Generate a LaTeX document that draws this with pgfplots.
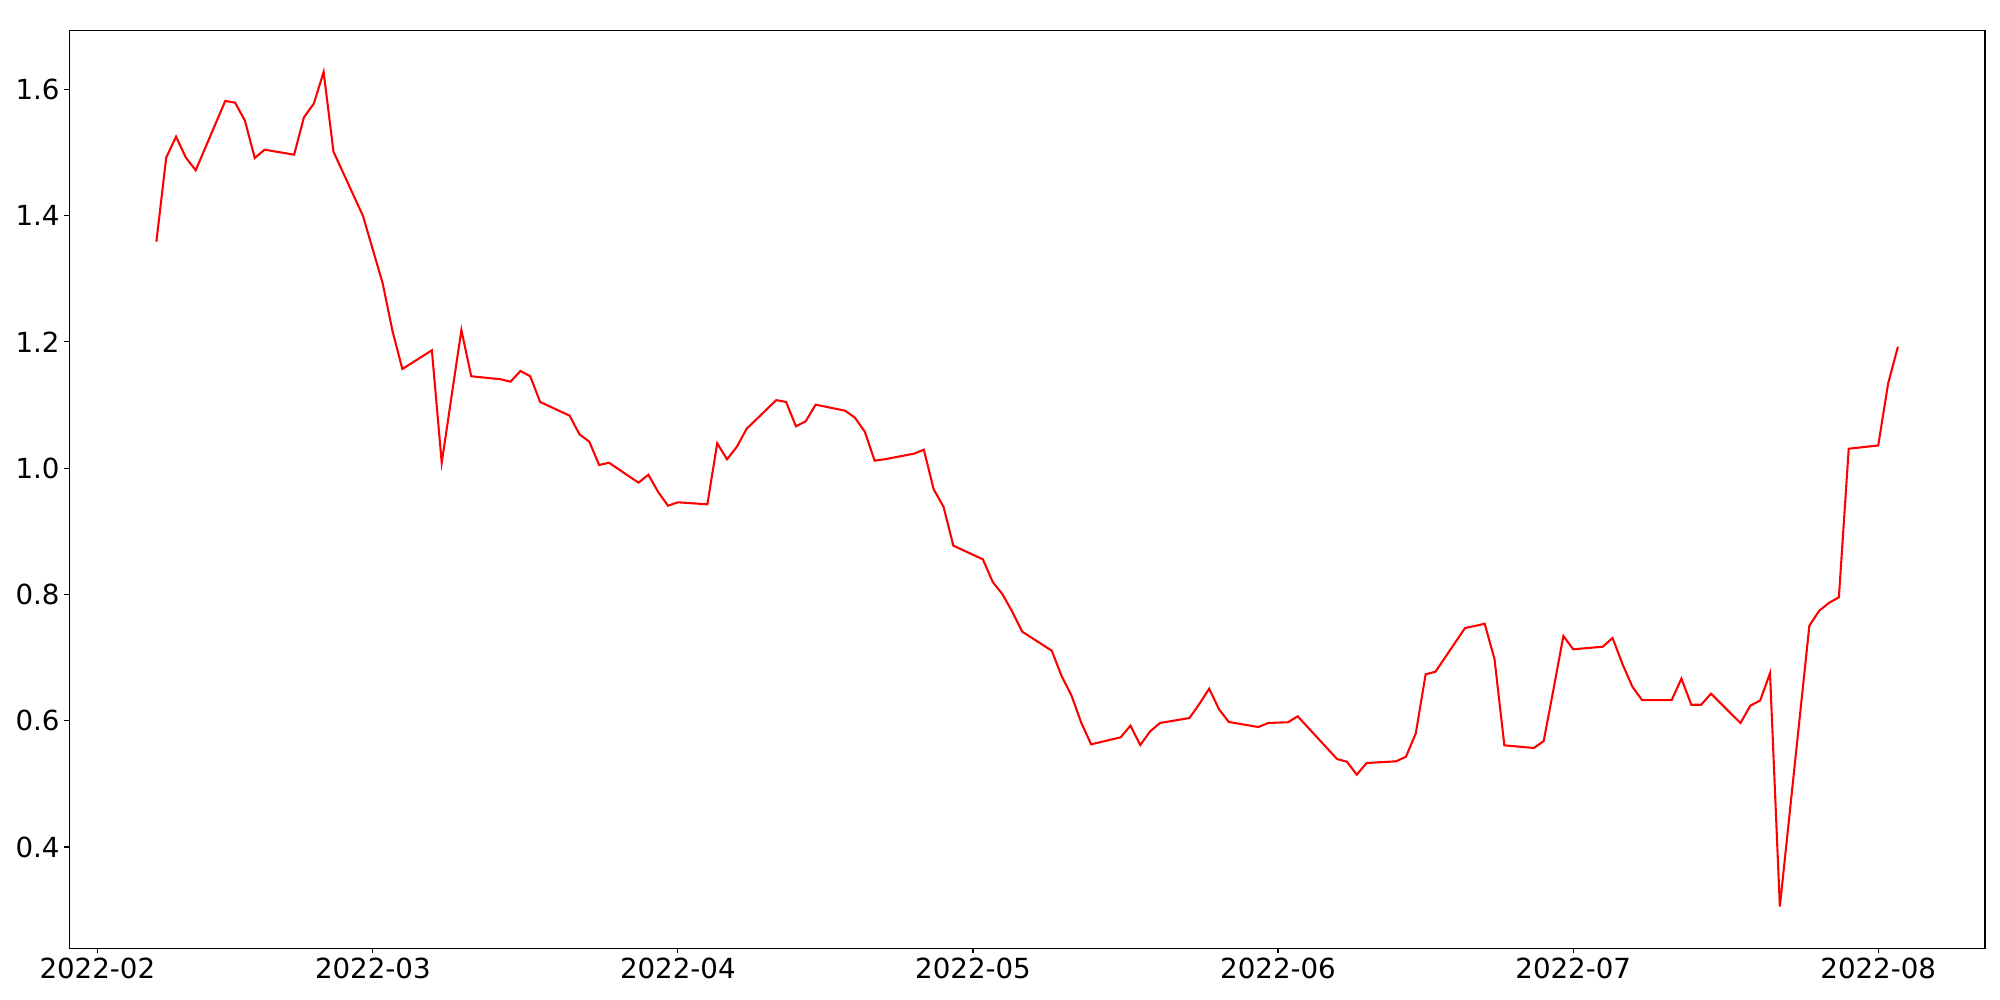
\documentclass[border=0pt]{standalone}
\usepackage{fontspec}
\setmainfont{DejaVu Sans}
\usepackage{pgfplots}
\pgfplotsset{compat=1.18}
\begin{document}
\begin{tikzpicture}
\useasboundingbox (-0.693in,-0.517in) rectangle (19.307in,9.483in);
\begin{axis}[
  scale only axis,
  width=19.157in, height=9.18in,
  xmin=-2.85, xmax=191.85,
  ymin=0.2396, ymax=1.6934,
  axis line style={line width=0.8pt},
  tick style={line width=0.8pt, black},
  tick align=outside,
  major tick length=3.5pt,
  xtick pos=bottom, ytick pos=left,
  xtick={0,28,59,89,120,150,181},
  xticklabels={2022-02,2022-03,2022-04,2022-05,2022-06,2022-07,2022-08},
  ytick={0.4,0.6,0.8,1.0,1.2,1.4,1.6},
  yticklabels={0.4,0.6,0.8,1.0,1.2,1.4,1.6},
  /pgf/number format/assume math mode=true,
  ticklabel style={font=\fontsize{20}{24}\selectfont},
  clip=true,
]
\addplot[red, line width=1.5pt, mark=none] coordinates {
(6,1.3586) (7,1.4917) (8,1.525) (9,1.4917) (10,1.4717)
(13,1.5815) (14,1.5788) (15,1.5503) (16,1.4912) (17,1.5043)
(20,1.4964) (21,1.5557) (22,1.5772) (23,1.6274) (24,1.5012)
(27,1.3993) (28,1.346) (29,1.2927) (30,1.217) (31,1.157)
(34,1.1866) (35,1.0086) (37,1.2188) (38,1.1455)
(41,1.1407) (42,1.1369) (43,1.1539) (44,1.1455) (45,1.1048)
(48,1.0831) (49,1.0536) (50,1.0419) (51,1.005) (52,1.0086)
(55,0.977) (56,0.9896) (57,0.9622) (58,0.9405) (59,0.9459)
(62,0.9427) (63,1.0393) (64,1.014) (65,1.034) (66,1.0625)
(69,1.1077) (70,1.1048) (71,1.0663) (72,1.0742) (73,1.1005)
(76,1.091) (77,1.0799) (78,1.0577) (79,1.0118) (80,1.014)
(83,1.0229) (84,1.0292) (85,0.9665) (86,0.9389) (87,0.8772)
(90,0.8556) (91,0.8197) (92,0.8002) (93,0.7722) (94,0.741)
(97,0.7109) (98,0.6708) (99,0.6402) (100,0.5968) (101,0.5626)
(104,0.5737) (105,0.5921) (106,0.5615) (107,0.5832) (108,0.5964)
(111,0.6043) (112,0.6265) (113,0.6507) (114,0.6181) (115,0.598)
(118,0.59) (119,0.5964) (120,0.597) (121,0.5975) (122,0.607)
(126,0.5393) (127,0.5351) (128,0.5145) (129,0.533)
(132,0.5357) (133,0.543) (134,0.58) (135,0.6735) (136,0.6776)
(139,0.7468) (140,0.750) (141,0.7536) (142,0.6977) (143,0.561)
(146,0.5568) (147,0.5678) (148,0.6502) (149,0.7342) (150,0.7131)
(153,0.7172) (154,0.731) (155,0.69) (156,0.6542) (157,0.6325)
(160,0.6325) (161,0.6668) (162,0.6253) (163,0.6253) (164,0.6428)
(167,0.5964) (168,0.6239) (169,0.632) (170,0.6752) (171,0.3057)
(174,0.7505) (175,0.7742) (176,0.7867) (177,0.7954) (178,1.0308)
(181,1.0359) (182,1.1336) (183,1.1923)
};
\node[anchor=south west, inner sep=0pt, yshift=3pt, font=\fontsize{10}{12}\selectfont] at (rel axis cs:0,1) {1e6};
\end{axis}
\end{tikzpicture}
\end{document}
